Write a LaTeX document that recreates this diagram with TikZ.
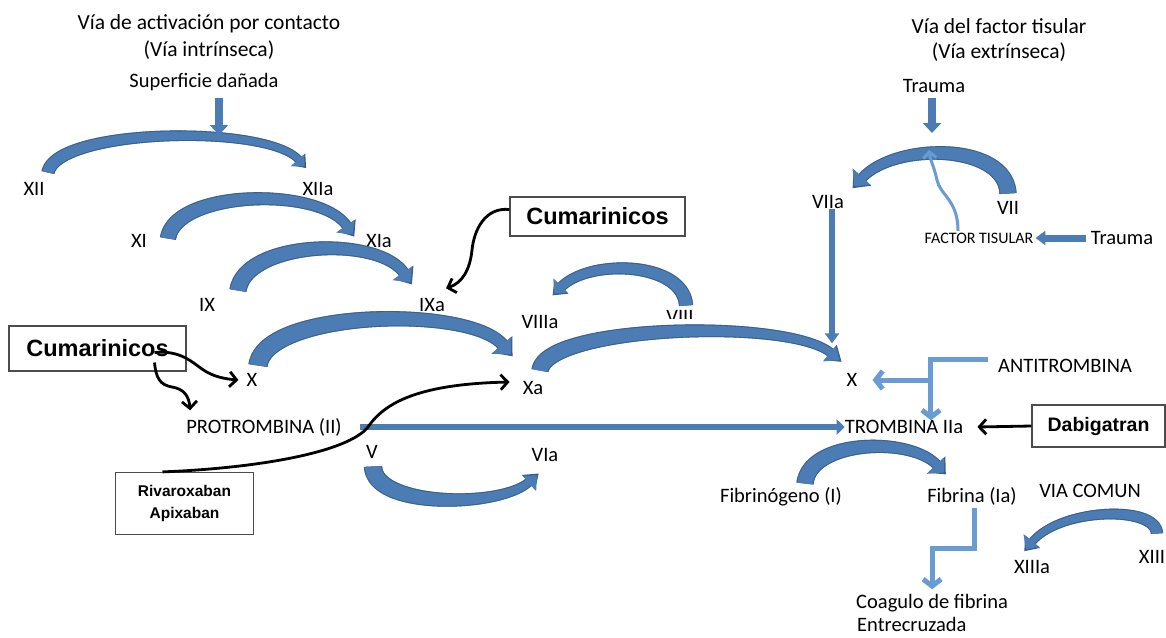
\documentclass[tikz,border=0pt]{standalone}
\usepackage{fontspec}
\setmainfont{Carlito}
\newfontfamily\boxfont{Liberation Sans}
\usetikzlibrary{arrows.meta,decorations.markings,calc}

\definecolor{steel}{RGB}{76,124,180}
\definecolor{steeledge}{RGB}{58,95,142}
\definecolor{skyline}{RGB}{106,156,212}

\tikzset{
  lbl/.style={inner sep=0pt, text height=13pt, text depth=0pt, font=\fontsize{20.5}{24}\selectfont},
  ttl/.style={inner sep=0pt, text height=14pt, text depth=0pt, font=\fontsize{21.5}{25}\selectfont},
  smalllbl/.style={inner sep=0pt, text height=10pt, text depth=0pt, font=\fontsize{16}{19}\selectfont},
  drugbox/.style={draw=black!70, line width=1.2pt, fill=white, inner sep=0pt, align=center},
  % tapered band along the path: colour, tail width, end width, extra width
  band/.style n args={4}{postaction={decorate, decoration={markings,
      mark=between positions 0 and 1 step 0.7pt with {%
        \pgfmathsetmacro\tkw{0.5*(#2+(#3-(#2))*\pgfkeysvalueof{/pgf/decoration/mark info/distance from start}/\pgfdecoratedpathlength)+#4}%
        \fill[#1] (-0.6pt,-\tkw pt) rectangle (0.6pt,\tkw pt);}}}},
  % triangular head at the end of the path: colour, half-width, length
  bandhead/.style n args={3}{postaction={decorate, decoration={markings,
      mark=at position 0.999 with {\fill[#1] (-0.5pt,-#2pt) -- (#3pt,0pt) -- (-0.5pt,#2pt) -- cycle;}}}},
  % curved block arrow: tail width, end width, head half-width, head length
  curvy/.style n args={4}{
    band={steeledge}{#1}{#2}{1.1},
    bandhead={steeledge}{#3}{#4},
    band={steel}{#1}{#2}{0},
    bandhead={steel}{#3-1.6}{#4-2.6}},
  blockarrow/.style={draw=steel, line width=8pt, -{Triangle[width=18pt,length=10pt]}},
  flatarrow/.style={draw=steel, line width=6.5pt, -{Triangle[width=14pt,length=9pt]}},
  skyarrow/.style={draw=skyline, line width=5pt, -{Straight Barb[length=7pt,width=18pt]}},
  inhib/.style={draw=black, line width=2.8pt, -{Straight Barb[length=7pt,width=15pt]}},
}

\begin{document}
\begin{tikzpicture}[x=1pt,y=-1pt]
\useasboundingbox (0,0) rectangle (1166,637);
\fill[white] (0,0) rectangle (1166,637);

% headings
\node[ttl] (intr1) at (209,22) {Vía de activación por contacto};
\node[ttl] (intr2) at (209,49) {(Vía intrínseca)};
\node[lbl] (surf) at (204,81) {Superficie dañada};
\node[ttl] (extr1) at (999,26) {Vía del factor tisular};
\node[ttl] (extr2) at (999,51) {(Vía extrínseca)};
\node[lbl] (trauma1) at (934,86) {Trauma};

% factors
\node[lbl] (xii) at (34,189) {XII};
\node[lbl] (xiia) at (318,189) {XIIa};
\node[lbl] (xi) at (139,241) {XI};
\node[lbl] (xia) at (379,241) {XIa};
\node[lbl] (ix) at (207,305) {IX};
\node[lbl] (ixa) at (432,305) {IXa};
\node[lbl] (x1) at (252,380) {X};
\node[lbl] (xa) at (533,388) {Xa};
\node[lbl] (viiia) at (540,322) {VIIIa};
\begin{scope}
  \clip (640,290) rectangle (720,318);
  \node[lbl] (viii) at (680,317) {VIII};
\end{scope}
\node[lbl] (x2) at (852,380) {X};
\node[lbl] (viia) at (828,202) {VIIa};
\node[lbl] (vii) at (1008,208) {VII};
\node[smalllbl] (factor) at (979,238) {FACTOR TISULAR};
\node[lbl] (trauma2) at (1122,238) {Trauma};
\node[lbl] (antitro) at (1065,366) {ANTITROMBINA};
\node[lbl] (protro) at (264,427) {PROTROMBINA (II)};
\node[lbl] (trombina) at (904,427) {TROMBINA IIa};
\node[lbl] (v) at (372,452) {V};
\node[lbl] (via) at (545,455) {VIa};
\node[lbl] (fibrinogeno) at (781,496) {Fibrinógeno (I)};
\node[lbl] (fibrina) at (972,496) {Fibrina (Ia)};
\node[lbl] (viacomun) at (1090,491) {VIA COMUN};
\node[lbl] (xiiia) at (1032,567) {XIIIa};
\node[lbl] (xiii) at (1152,557) {XIII};
\node[lbl, anchor=west] (coag1) at (856,602) {Coagulo de fibrina};
\node[lbl, anchor=west] (coag2) at (857,625) {Entrecruzada};

% points on the arcs reached by the straight arrows
\coordinate (arcItop) at (219,135);
\coordinate (arcVIItop) at (932,133);
\coordinate (arcVIIfoot) at (929,150);

% activation arcs
\path[curvy={11}{6}{9}{11}] (48,172) .. controls (58,128) and (268,124) .. (299,160);
\path[curvy={14}{8}{11}{13}] (168,238) .. controls (176,190) and (320,186) .. (347,226);
\path[curvy={15}{9}{12}{14}] (238,290) .. controls (246,241) and (378,235) .. (404,273);
\path[curvy={17}{10}{13}{15}] (258,365) .. controls (266,310) and (470,305) .. (503,345);
\path[curvy={15}{7}{10}{14}] (540,370) .. controls (548,325) and (790,318) .. (831,353);
\path[curvy={12}{8}{10}{12}] (686,305) .. controls (683,262) and (590,258) .. (561,287);
\path[curvy={16}{7}{10}{13}] (373,467) .. controls (375,508) and (500,508) .. (529,482);
\path[curvy={15}{8}{12}{14}] (1008,193) .. controls (1005,143) and (895,142) .. (862,178);
\path[curvy={15}{8}{12}{13}] (805,483) .. controls (810,440) and (910,436) .. (937,465);
\path[curvy={10}{6}{10}{12}] (1157,533) .. controls (1155,505) and (1060,508) .. (1032,542);

% straight blue arrows
\draw[blockarrow] ([xshift=15pt,yshift=-10pt]surf.south) -- (arcItop);
\draw[blockarrow] ([xshift=-2pt,yshift=-5pt]trauma1.south) -- (arcVIItop);
\draw[flatarrow, line width=7pt, -{Triangle[width=14pt,length=10pt]}] ([xshift=-5pt]trauma2.west) -- ([xshift=2pt]factor.east);
\draw[flatarrow, line width=6pt, -{Triangle[width=14pt,length=10pt]}, shorten >=30pt] ([xshift=4pt]viia.south) -- ([xshift=-20pt]x2.north);
\draw[flatarrow, -{Triangle[width=15pt,length=8pt]}] ([xshift=18pt]protro.east) -- (trombina.west);

% light blue arrows
\draw[skyline, line width=3pt, -{Straight Barb[length=6pt,width=13pt]}] ([xshift=-21pt,yshift=2pt]factor.north) .. controls (958,200) and (940,195) .. (937,180) .. controls (934,166) and (930,160) .. (arcVIIfoot);
\draw[skyarrow] ([shift={(-10pt,7pt)}]antitro.west) -- ++(-57,0) coordinate (aj) -- (aj |- trombina.north);
\draw[skyarrow] (aj |- x2) -- ([xshift=15pt]x2.east);
\draw[skyarrow, shorten >=6pt] ([xshift=2pt,yshift=-5pt]fibrina.south) -- ++(0,41) -| (coag1.north);

% drug boxes
\node[drugbox, minimum width=175pt, minimum height=39pt, font=\boxfont\bfseries\fontsize{23.5}{27}\selectfont] (cumtop) at (597.5,216.5) {Cumarinicos};
\node[drugbox, minimum width=177pt, minimum height=45pt, font=\boxfont\bfseries\fontsize{23.5}{27}\selectfont] (cumleft) at (97.5,348.5) {Cumarinicos};
\node[drugbox, minimum width=133pt, minimum height=42pt, font=\boxfont\bfseries\fontsize{19.5}{23}\selectfont] (dabi) at (1098.5,426) {Dabigatran};
\node[drugbox, minimum width=138pt, minimum height=62pt, font=\boxfont\bfseries\fontsize{15.5}{22}\selectfont] (riva) at (184.5,503.5) {Rivaroxaban\\Apixaban};

% inhibitor arrows
\draw[inhib] ([yshift=7pt]cumtop.west) .. controls (485,207) and (474,230) .. (472,250) .. controls (470,270) and (462,283) .. ($(ixa.north east)+(1,-10)$);
\draw[inhib] ($(cumleft.center)+(57,4)$) .. controls (180,350) and (192,362) .. (202,369) .. controls (213,377) and (226,379) .. ($(x1.west)+(-8,0)$);
\draw[inhib] ($(cumleft.center)+(57,14)$) .. controls (156,378) and (160,385) .. (172,387) .. controls (184,389) and (189,396) .. ($(protro.north west)+(4,-10)$);
\draw[inhib] ([xshift=-22pt]riva.north) .. controls (260,468) and (348,452) .. (368,427) .. controls (385,402) and (420,384) .. ($(xa.west)+(-13,-6)$);
\draw[inhib] (dabi.west) -- ([xshift=14pt]trombina.east);
\end{tikzpicture}
\end{document}
